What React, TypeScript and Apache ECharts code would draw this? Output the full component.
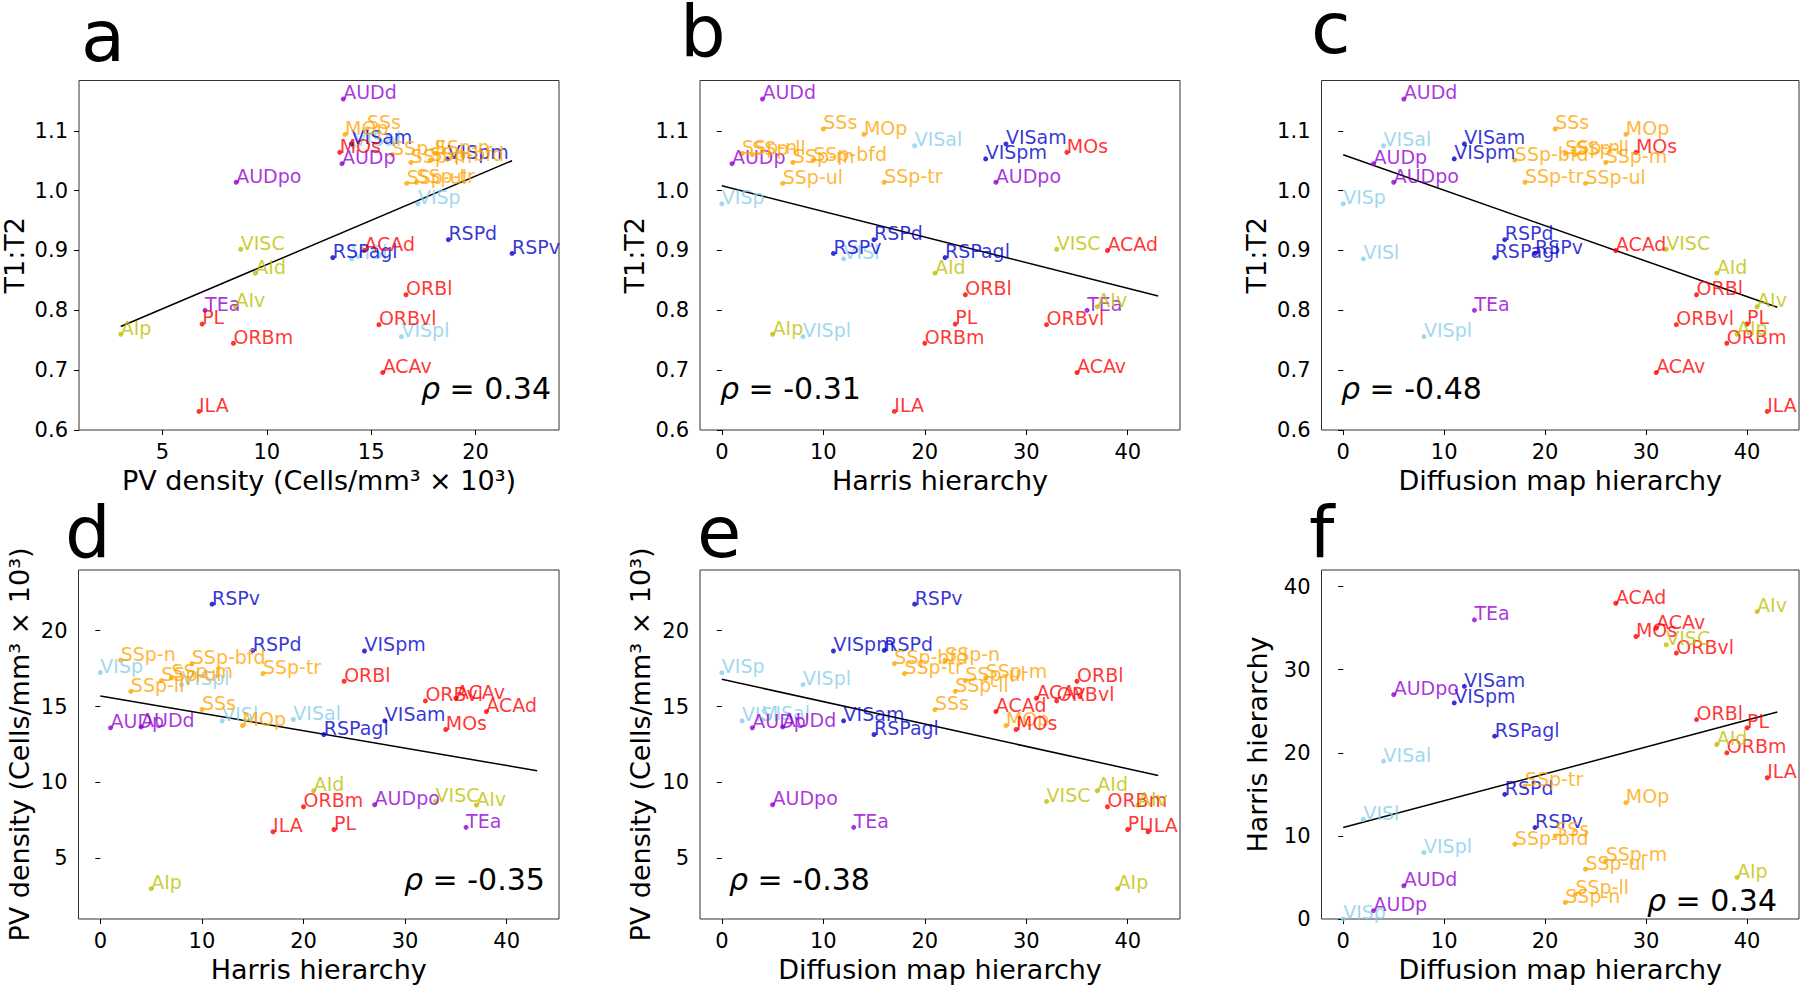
import { useEffect, useRef } from "react";
import * as echarts from "echarts";

// ---------- data ----------
const areas = [
  "VISp", "VISl", "VISal", "VISpl", "VISam", "VISpm", "RSPd", "RSPv", "RSPagl",
  "AUDd", "AUDp", "AUDpo", "TEa",
  "SSp-n", "SSp-bfd", "SSp-ll", "SSp-m", "SSp-ul", "SSp-tr", "SSs", "MOp",
  "MOs", "ACAd", "ACAv", "PL", "ILA", "ORBl", "ORBm", "ORBvl",
  "AId", "AIv", "AIp", "VISC",
];
const moduleOf = [
  "visual", "visual", "visual", "visual", "medial", "medial", "medial", "medial", "medial",
  "auditory", "auditory", "auditory", "auditory",
  "somatomotor", "somatomotor", "somatomotor", "somatomotor", "somatomotor", "somatomotor", "somatomotor", "somatomotor",
  "prefrontal", "prefrontal", "prefrontal", "prefrontal", "prefrontal", "prefrontal", "prefrontal", "prefrontal",
  "lateral", "lateral", "lateral", "lateral",
];
const moduleColors: Record<string, string> = {
  visual: "#87CEEB",
  medial: "#0000CD",
  auditory: "#9400D3",
  somatomotor: "#FFA500",
  prefrontal: "#FF0000",
  lateral: "#BFBF00",
};
const pvDensity = [
  17.24, 14.06, 14.15, 16.45, 14.06, 18.66, 18.7, 21.75, 13.16,
  13.66, 13.6, 8.53, 7.04,
  18.05, 17.83, 16.0, 16.9, 16.7, 17.17, 14.8, 13.75,
  13.49, 14.67, 15.55, 6.9, 6.75, 16.67, 8.4, 15.37,
  9.45, 8.5, 3.0, 8.75,
];
const t1t2 = [
  0.978, 0.886, 1.075, 0.756, 1.078, 1.053, 0.918, 0.895, 0.888,
  1.153, 1.045, 1.014, 0.8,
  1.062, 1.051, 1.06, 1.047, 1.012, 1.014, 1.103, 1.094,
  1.064, 0.9, 0.696, 0.777, 0.631, 0.826, 0.745, 0.776,
  0.862, 0.806, 0.76, 0.902,
];
const harris = [
  0, 12, 19, 8, 28, 26, 15, 11, 22,
  4, 1, 27, 36,
  2, 9, 3, 7, 6, 16, 10, 14,
  34, 38, 35, 23, 17, 24, 20, 32,
  21, 37, 5, 33,
];
const diffusion = [
  0, 2, 4, 8, 12, 11, 16, 19, 15,
  6, 3, 5, 13,
  22, 17, 23, 26, 24, 18, 21, 28,
  29, 27, 31, 40, 42, 35, 38, 33,
  37, 41, 39, 32,
];

// regression lines (end points)
const fitA = [[3.0, 0.773], [21.75, 1.05]];
const fitB = [[0, 1.008], [43, 0.824]];
const fitC = [[0, 1.06], [43, 0.805]];
const fitD = [[0, 15.7], [43, 10.77]];
const fitE = [[0, 16.8], [43, 10.46]];
const fitF = [[0, 11.0], [43, 24.9]];

const rhoValues = ["0.34", "-0.31", "-0.48", "-0.35", "-0.38", "0.34"];
const panelLetters = ["a", "b", "c", "d", "e", "f"];

// tick labels
const pvTicks = [5, 10, 15, 20];
const t1t2Ticks = [0.6, 0.7, 0.8, 0.9, 1.0, 1.1];
const hierTicks = [0, 10, 20, 30, 40];
const harrisYTicks = [0, 10, 20, 30, 40];

const pvName = "PV density (Cells/mm³ × 10³)";
const t1t2Name = "T1:T2";
const harrisName = "Harris hierarchy";
const diffName = "Diffusion map hierarchy";

// ---------- layout ----------
const FONT = "DejaVu Sans";
const gridBoxes = [
  { left: 78.5, top: 80.5, width: 480.5, height: 349.5 },
  { left: 700, top: 80.5, width: 480, height: 349.5 },
  { left: 1321.5, top: 80.5, width: 477.5, height: 349.5 },
  { left: 78.5, top: 570, width: 480.5, height: 349 },
  { left: 700, top: 570, width: 480, height: 349 },
  { left: 1321.5, top: 570, width: 477.5, height: 349 },
];
const yNameGaps = [51, 52, 52, 46, 46.5, 51];
const letterPos = [
  [81, 36], [680, 31], [1311, 28], [65, 532], [697, 532], [1309, 532],
];
const rhoPos = [
  [421, 388.6], [720, 388.6], [1341, 388.6], [404, 879], [729, 879], [1647, 900],
];

const panels = [
  { xs: pvDensity, ys: t1t2, xr: [1.0, 24.0], yr: [0.6, 1.184], xt: pvTicks, yt: t1t2Ticks, xn: pvName, yn: t1t2Name, fit: fitA, yDec: 1 },
  { xs: harris, ys: t1t2, xr: [-2.15, 45.15], yr: [0.6, 1.184], xt: hierTicks, yt: t1t2Ticks, xn: harrisName, yn: t1t2Name, fit: fitB, yDec: 1 },
  { xs: diffusion, ys: t1t2, xr: [-2.15, 45.15], yr: [0.6, 1.184], xt: hierTicks, yt: t1t2Ticks, xn: diffName, yn: t1t2Name, fit: fitC, yDec: 1 },
  { xs: harris, ys: pvDensity, xr: [-2.15, 45.15], yr: [1.0, 24.0], xt: hierTicks, yt: pvTicks, xn: harrisName, yn: pvName, fit: fitD, yDec: 0 },
  { xs: diffusion, ys: pvDensity, xr: [-2.15, 45.15], yr: [1.0, 24.0], xt: hierTicks, yt: pvTicks, xn: diffName, yn: pvName, fit: fitE, yDec: 0 },
  { xs: diffusion, ys: harris, xr: [-2.15, 45.15], yr: [0, 42], xt: hierTicks, yt: harrisYTicks, xn: diffName, yn: harrisName, fit: fitF, yDec: 0 },
];

const LABEL_FS = 19;

function buildOption() {
  const grid = gridBoxes.map((g) => ({
    ...g,
    show: true,
    borderColor: "#333",
    borderWidth: 1,
    backgroundColor: "transparent",
    containLabel: false,
  }));

  const tickCommon = { show: true, length: 5, lineStyle: { color: "#000", width: 1 } };

  const xAxis = panels.map((p, i) => ({
    type: "value",
    gridIndex: i,
    min: p.xr[0],
    max: p.xr[1],
    axisLine: { show: false },
    splitLine: { show: false },
    axisTick: { ...tickCommon, customValues: p.xt },
    axisLabel: {
      customValues: p.xt,
      fontSize: 21,
      fontFamily: FONT,
      color: "#000",
      margin: 11,
      formatter: (v: number) => String(Math.round(v)),
    },
    name: p.xn,
    nameLocation: "middle",
    nameGap: 37,
    nameTextStyle: { fontSize: 27, fontFamily: FONT, color: "#000" },
  }));

  const yAxis = panels.map((p, i) => ({
    type: "value",
    gridIndex: i,
    min: p.yr[0],
    max: p.yr[1],
    axisLine: { show: false },
    splitLine: { show: false },
    axisTick: { ...tickCommon, customValues: p.yt },
    axisLabel: {
      customValues: p.yt,
      fontSize: 21,
      fontFamily: FONT,
      color: "#000",
      margin: 11,
      formatter: (v: number) => (p.yDec ? v.toFixed(1) : String(Math.round(v))),
    },
    name: p.yn,
    nameLocation: "middle",
    nameGap: yNameGaps[i],
    nameTextStyle: { fontSize: 27, fontFamily: FONT, color: "#000" },
  }));

  const series: any[] = [];
  panels.forEach((p, i) => {
    series.push({
      type: "line",
      xAxisIndex: i,
      yAxisIndex: i,
      data: p.fit,
      showSymbol: false,
      symbol: "none",
      silent: true,
      z: 1,
      lineStyle: { color: "#000", width: 1.5 },
    });
    series.push({
      type: "scatter",
      xAxisIndex: i,
      yAxisIndex: i,
      symbol: "circle",
      symbolSize: 5,
      z: 2,
      data: areas.map((name, k) => {
        const c = moduleColors[moduleOf[k]];
        return {
          name,
          value: [p.xs[k], p.ys[k]],
          itemStyle: { color: c },
          label: { color: c },
        };
      }),
      label: {
        show: true,
        position: [2.5, 2.5 - 0.346 * LABEL_FS],
        align: "left",
        verticalAlign: "middle",
        formatter: "{b}",
        fontSize: LABEL_FS,
        fontFamily: FONT,
      },
      labelLayout: { hideOverlap: false },
      emphasis: { disabled: true },
    });
  });

  const graphic: any[] = [];
  panelLetters.forEach((l, i) => {
    graphic.push({
      type: "text",
      x: letterPos[i][0],
      y: letterPos[i][1],
      style: {
        text: l,
        fontSize: 72,
        lineHeight: 60,
        fontFamily: FONT,
        fill: "#000",
        align: "left",
        verticalAlign: "middle",
      },
    });
  });
  rhoValues.forEach((r, i) => {
    graphic.push({
      type: "text",
      x: rhoPos[i][0],
      y: rhoPos[i][1],
      style: {
        text: "{i|ρ} = " + r,
        rich: { i: { fontStyle: "italic", fontSize: 30, fontFamily: FONT, fill: "#000" } },
        fontSize: 30,
        fontFamily: FONT,
        fill: "#000",
        align: "left",
        verticalAlign: "middle",
      },
    });
  });

  return {
    animation: false,
    backgroundColor: "#fff",
    textStyle: { fontFamily: FONT },
    grid,
    xAxis,
    yAxis,
    series,
    graphic,
  };
}

export default function App() {
  const ref = useRef<HTMLDivElement>(null);
  useEffect(() => {
    document.body.style.margin = "0";
    if (!ref.current) return;
    const chart = echarts.init(ref.current, null, { renderer: "svg" });
    chart.setOption(buildOption() as any);
    return () => chart.dispose();
  }, []);
  return (
    <div
      ref={ref}
      style={{ position: "absolute", left: 0, top: 0, width: 1800, height: 985, background: "#fff" }}
    />
  );
}
